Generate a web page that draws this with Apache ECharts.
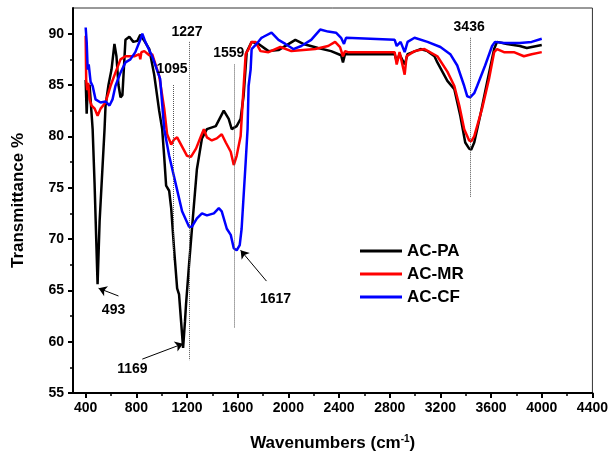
<!DOCTYPE html>
<html lang="en">
<head>
<meta charset="utf-8">
<title>FTIR spectra</title>
<script src="https://cdn.jsdelivr.net/npm/echarts@6/dist/echarts.min.js"></script>
<style>
  html, body { margin: 0; padding: 0; background: #fff; }
  #main { width: 611px; height: 457px; }
</style>
</head>
<body>
<div id="main"></div>
<script type="text/javascript">
  // tick labels
  var xTicks = [400, 800, 1200, 1600, 2000, 2400, 2800, 3200, 3600, 4000, 4400];
  var xMinor = [600, 1000, 1400, 1800, 2200, 2600, 3000, 3400, 3800, 4200];
  var yTicks = [55, 60, 65, 70, 75, 80, 85, 90];
  var yMinor = [57.5, 62.5, 67.5, 72.5, 77.5, 82.5, 87.5];

  var seriesNames = ['AC-PA', 'AC-MR', 'AC-CF'];

  // AC-PA (black)
  var paWn = [400, 408, 416, 431, 455, 470, 494, 510, 549, 557, 580, 604, 627, 643, 659, 675, 690, 714, 745, 776, 808, 831, 863, 902, 941, 980, 1004, 1020, 1035, 1059, 1075, 1098, 1122, 1137, 1153, 1169, 1184, 1192, 1216, 1239, 1278, 1318, 1357, 1427, 1490, 1529, 1553, 1592, 1623, 1647, 1671, 1710, 1765, 1843, 1922, 2055, 2118, 2235, 2337, 2416, 2431, 2447, 2549, 2706, 2839, 2855, 2878, 2918, 2941, 3043, 3098, 3153, 3176, 3255, 3310, 3357, 3396, 3427, 3443, 3467, 3514, 3569, 3624, 3647, 3725, 3827, 3882, 4000];
  var paT = [85.5, 82.2, 84.8, 85.0, 80.7, 75.5, 65.6, 71.7, 80.7, 83.0, 85.0, 86.5, 89.0, 87.8, 85.0, 83.8, 84.0, 89.4, 89.7, 89.2, 89.3, 89.9, 89.3, 88.5, 86.0, 82.5, 80.7, 78.0, 75.2, 74.7, 73.0, 69.0, 65.2, 64.6, 62.0, 59.4, 62.0, 63.6, 67.5, 71.0, 76.8, 79.8, 80.7, 81.0, 82.5, 81.7, 80.7, 81.0, 81.7, 84.0, 88.2, 89.2, 89.0, 88.3, 88.4, 89.4, 89.0, 88.6, 88.3, 87.9, 87.2, 88.0, 88.0, 88.0, 88.0, 87.3, 88.0, 87.0, 88.0, 88.5, 88.3, 87.8, 87.2, 85.4, 84.6, 82.0, 79.4, 78.8, 78.7, 79.4, 82.0, 85.3, 88.5, 89.2, 89.0, 88.8, 88.6, 88.9];

  // AC-MR (red)
  var mrWn = [400, 404, 412, 420, 431, 447, 471, 494, 518, 557, 596, 635, 675, 714, 784, 824, 831, 840, 863, 902, 925, 980, 1020, 1043, 1075, 1098, 1122, 1161, 1200, 1231, 1271, 1310, 1333, 1357, 1396, 1435, 1474, 1506, 1545, 1569, 1592, 1623, 1640, 1663, 1686, 1710, 1741, 1780, 1843, 1937, 2024, 2212, 2314, 2369, 2408, 2431, 2447, 2471, 2839, 2855, 2878, 2918, 2933, 2996, 3074, 3176, 3255, 3310, 3349, 3388, 3427, 3443, 3467, 3529, 3584, 3624, 3647, 3702, 3780, 3859, 3920, 4000];
  var mrT = [89.8, 85.5, 84.5, 85.2, 83.6, 83.0, 82.7, 82.0, 82.7, 83.3, 84.9, 86.2, 87.5, 87.8, 87.8, 88.0, 87.5, 88.2, 88.3, 87.9, 88.0, 85.9, 82.7, 80.2, 79.2, 79.7, 79.9, 79.0, 78.1, 78.0, 78.8, 80.0, 80.7, 79.9, 79.6, 79.8, 80.2, 79.4, 78.5, 77.2, 78.1, 80.0, 83.5, 88.0, 88.5, 89.2, 89.2, 88.3, 88.2, 88.7, 88.3, 88.5, 88.8, 89.2, 88.7, 87.8, 88.3, 88.2, 88.2, 87.0, 88.2, 86.0, 87.8, 88.3, 88.5, 87.8, 86.3, 84.9, 83.0, 80.7, 79.6, 79.5, 80.0, 82.7, 85.6, 88.2, 88.5, 88.2, 88.2, 87.8, 88.0, 88.2];

  // AC-CF (blue)
  var cfWn = [400, 408, 416, 424, 439, 455, 478, 518, 557, 588, 612, 635, 675, 714, 753, 792, 831, 847, 871, 925, 988, 1020, 1059, 1114, 1161, 1216, 1239, 1278, 1318, 1357, 1412, 1451, 1474, 1514, 1545, 1569, 1592, 1616, 1631, 1663, 1678, 1686, 1702, 1710, 1749, 1788, 1804, 1867, 1922, 1976, 2039, 2102, 2180, 2251, 2314, 2376, 2416, 2439, 2455, 2839, 2855, 2886, 2918, 2941, 2996, 3098, 3200, 3278, 3333, 3388, 3412, 3435, 3467, 3490, 3553, 3608, 3631, 3702, 3827, 3920, 4000];
  var cfT = [90.6, 89.2, 86.5, 87.0, 85.3, 84.9, 83.6, 83.3, 83.4, 83.0, 83.6, 84.9, 86.2, 87.2, 87.5, 88.2, 89.4, 90.0, 89.2, 87.8, 85.6, 80.7, 78.1, 75.2, 72.7, 71.2, 71.2, 72.0, 72.5, 72.3, 72.5, 73.0, 72.7, 71.0, 70.4, 69.1, 68.9, 69.4, 71.0, 77.5, 80.7, 84.9, 86.5, 88.5, 89.0, 89.6, 89.7, 90.1, 89.4, 89.0, 88.5, 88.8, 89.4, 90.4, 90.2, 90.1, 89.6, 89.0, 89.6, 89.4, 88.8, 89.2, 88.2, 89.2, 89.6, 89.2, 88.7, 88.0, 86.9, 84.9, 83.9, 83.8, 84.2, 84.9, 86.9, 88.8, 89.2, 89.1, 89.1, 89.2, 89.5];

  // peak labels and guide lines
  var peakLabels = ['1095', '1227', '1559', '3436', '493', '1169', '1617'];
  var peakLabelPos = [[1082, 86.5], [1200, 90.1], [1529, 88.1], [3427, 90.6], [620, 63.1], [769, 57.3], [1898, 64.1]];
  var guideLines = [[1095, 85, 68], [1220, 89.2, 58.2], [1569, 87, 61.3], [3436, 89.6, 74.1]];
  var arrows = [[[659, 64.45], [502, 65.2]], [[847, 58.3], [1169, 59.8]], [[1827, 65.9], [1623, 68.9]]];

  var colors = ['#000000', '#ff0000', '#0000ff'];
  var font = 'Liberation Sans, Arial, sans-serif';

  function zip(a, b) {
    return a.map(function (v, i) { return [v, b[i]]; });
  }
  function plain(v) { return String(v); }

  var chart = echarts.init(document.getElementById('main'));

  var markLines = [];
  guideLines.forEach(function (g) {
    markLines.push([
      { coord: [g[0], g[1]], lineStyle: { type: 'dotted', color: '#555', width: 1 }, symbol: 'none' },
      { coord: [g[0], g[2]], symbol: 'none' }
    ]);
  });
  arrows.forEach(function (a) {
    markLines.push([
      { coord: a[0], lineStyle: { type: 'solid', color: '#000', width: 1 }, symbol: 'none' },
      { coord: a[1], symbol: 'arrow', symbolSize: 8 }
    ]);
  });

  var option = {
    animation: false,
    backgroundColor: '#fff',
    color: colors,
    textStyle: { fontFamily: font },
    grid: {
      left: 73, right: 15, top: 8, bottom: 62,
      show: true, borderColor: '#333', borderWidth: 1
    },
    legend: {
      orient: 'vertical',
      left: 355, top: 237,
      icon: 'rect',
      itemWidth: 42, itemHeight: 3,
      itemGap: 5,
      data: seriesNames,
      textStyle: { fontSize: 17, fontWeight: 'bold', color: '#000', lineHeight: 18, fontFamily: font }
    },
    xAxis: [
      {
        type: 'value', min: 300, max: 4400,
        name: '{a|Wavenumbers (cm}{s|-1}{a|)}',
        nameLocation: 'middle', nameGap: 41,
        nameTextStyle: {
          rich: {
            a: { fontSize: 17, fontWeight: 'bold', color: '#000', fontFamily: font },
            s: { fontSize: 10, fontWeight: 'bold', color: '#000', fontFamily: font, padding: [0, 0, 9, 0] }
          }
        },
        axisLine: { show: true, lineStyle: { color: '#000', width: 2 } },
        axisTick: { show: true, customValues: xTicks, length: 5, inside: false, lineStyle: { color: '#000', width: 2 } },
        axisLabel: { customValues: xTicks, formatter: plain, fontSize: 14, fontWeight: 'bold', color: '#000', margin: 8, fontFamily: font },
        splitLine: { show: false }
      },
      {
        type: 'value', min: 300, max: 4400, position: 'bottom',
        axisLine: { show: false },
        axisTick: { show: true, customValues: xMinor, length: 3, lineStyle: { color: '#000', width: 1.5 } },
        axisLabel: { show: false },
        splitLine: { show: false }
      }
    ],
    yAxis: [
      {
        type: 'value', min: 55, max: 92.5,
        name: 'Transmittance %',
        nameLocation: 'middle', nameGap: 46, nameRotate: 90,
        nameTextStyle: { fontSize: 17, fontWeight: 'bold', color: '#000', fontFamily: font },
        axisLine: { show: true, lineStyle: { color: '#000', width: 2 } },
        axisTick: { show: true, customValues: yTicks, length: 5, lineStyle: { color: '#000', width: 2 } },
        axisLabel: { customValues: yTicks, formatter: plain, fontSize: 14, fontWeight: 'bold', color: '#000', margin: 9, fontFamily: font },
        splitLine: { show: false }
      },
      {
        type: 'value', min: 55, max: 92.5, position: 'left',
        axisLine: { show: false },
        axisTick: { show: true, customValues: yMinor, length: 3, lineStyle: { color: '#000', width: 1.5 } },
        axisLabel: { show: false },
        splitLine: { show: false }
      }
    ],
    series: [
      {
        name: seriesNames[0], type: 'line', data: zip(paWn, paT),
        showSymbol: false, lineStyle: { width: 2.5, color: colors[0] },
        markLine: { silent: true, symbol: 'none', label: { show: false }, data: markLines },
        markPoint: {
          silent: true,
          data: peakLabels.map(function (t, i) {
            return {
              coord: peakLabelPos[i], symbol: 'rect', symbolSize: 1,
              itemStyle: { color: 'rgba(0,0,0,0)' },
              label: { show: true, position: 'inside', formatter: t, color: '#000', fontSize: 14, fontWeight: 'bold', fontFamily: font }
            };
          })
        }
      },
      {
        name: seriesNames[1], type: 'line', data: zip(mrWn, mrT),
        showSymbol: false, lineStyle: { width: 2.5, color: colors[1] }
      },
      {
        name: seriesNames[2], type: 'line', data: zip(cfWn, cfT),
        showSymbol: false, lineStyle: { width: 2.5, color: colors[2] }
      }
    ]
  };

  chart.setOption(option);
</script>
</body>
</html>
